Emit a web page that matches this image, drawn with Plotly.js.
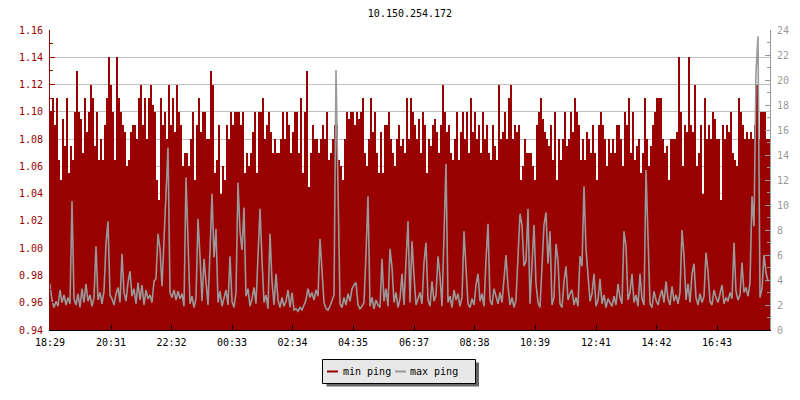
<!DOCTYPE html>
<html><head><meta charset="utf-8">
<script src="https://cdn.plot.ly/plotly-3.0.1.min.js"></script>
<style>html,body{margin:0;padding:0;background:#fff}#chart{width:800px;height:400px}</style>
</head><body><div id="chart"></div>
<script>
const chartTitle = '10.150.254.172';
const seriesNames = ['min ping', 'max ping'];
const startUTC = Date.UTC(2024, 0, 1, 18, 29);
const stepMinutes = 4;
const rangeStart = '2024-01-01 18:29';
const rangeEnd = '2024-01-02 18:29';

const minPing = [
1.10,1.11,1.09,1.11,1.065,1.05,1.095,1.075,1.11,1.055,
1.075,1.065,1.10,1.13,1.10,1.095,1.07,1.11,1.085,1.10,
1.12,1.11,1.075,1.10,1.065,1.08,1.065,1.09,1.11,1.14,
1.12,1.10,1.065,1.14,1.11,1.10,1.09,1.085,1.06,1.065,
1.085,1.09,1.09,1.08,1.11,1.12,1.09,1.11,1.08,1.11,
1.12,1.105,1.10,1.05,1.035,1.11,1.09,1.10,1.08,1.12,
1.09,1.11,1.085,1.12,1.10,1.09,1.06,1.07,1.07,1.06,
1.08,1.10,1.05,1.09,1.11,1.085,1.10,1.10,1.08,1.08,
1.13,1.12,1.055,1.065,1.09,1.04,1.06,1.05,1.09,1.08,
1.10,1.09,1.10,1.10,1.10,1.09,1.10,1.055,1.07,1.06,
1.07,1.085,1.10,1.055,1.10,1.10,1.11,1.08,1.09,1.10,
1.085,1.07,1.08,1.07,1.07,1.08,1.10,1.08,1.10,1.09,
1.07,1.085,1.10,1.10,1.07,1.11,1.055,1.10,1.13,1.045,
1.07,1.09,1.08,1.08,1.07,1.08,1.09,1.08,1.10,1.065,
1.07,1.08,1.09,1.09,1.065,1.06,1.05,1.08,1.10,1.095,
1.10,1.10,1.09,1.10,1.095,1.10,1.11,1.07,1.06,1.08,
1.11,1.085,1.10,1.07,1.055,1.085,1.055,1.09,1.09,1.10,
1.08,1.07,1.06,1.08,1.09,1.075,1.08,1.07,1.11,1.08,
1.11,1.10,1.09,1.08,1.095,1.07,1.10,1.09,1.055,1.08,
1.075,1.09,1.095,1.085,1.07,1.09,1.12,1.10,1.085,1.09,
1.07,1.065,1.08,1.10,1.065,1.085,1.10,1.08,1.10,1.07,
1.11,1.085,1.10,1.08,1.09,1.07,1.10,1.08,1.09,1.07,
1.065,1.09,1.075,1.065,1.12,1.08,1.085,1.10,1.08,1.11,
1.12,1.08,1.09,1.085,1.09,1.05,1.06,1.08,1.07,1.07,
1.07,1.06,1.05,1.09,1.10,1.11,1.095,1.085,1.08,1.075,
1.09,1.065,1.10,1.05,1.08,1.065,1.08,1.10,1.075,1.08,
1.10,1.085,1.11,1.10,1.09,1.065,1.08,1.065,1.085,1.08,
1.07,1.09,1.07,1.05,1.09,1.10,1.09,1.08,1.06,1.08,
1.07,1.08,1.07,1.09,1.09,1.08,1.06,1.10,1.09,1.11,
1.07,1.10,1.065,1.075,1.08,1.055,1.07,1.11,1.08,1.06,
1.075,1.09,1.10,1.11,1.11,1.11,1.08,1.07,1.075,1.05,
1.08,1.08,1.08,1.085,1.14,1.10,1.06,1.09,1.085,1.14,
1.09,1.085,1.12,1.06,1.07,1.09,1.04,1.11,1.08,1.09,
1.08,1.10,1.095,1.08,1.08,1.035,1.09,1.08,1.09,1.085,
1.10,1.07,1.065,1.06,1.11,1.10,1.09,1.08,1.085,1.08,
1.085,1.08,1.09,1.12,1.08,1.10,1.10,1.10,1.08,1.08
];

const maxPing = [
3.7,2.4,1.8,2.3,1.9,3.2,2.2,2.8,2.0,2.6,
2.1,10.3,2.5,2.0,2.9,1.8,3.3,2.2,3.7,2.3,
2.8,1.9,2.6,6.7,2.4,3.0,2.1,3.1,6.9,8.7,
2.8,2.5,2.0,2.9,3.4,2.2,6.1,3.0,2.3,3.8,
4.7,2.7,3.3,2.1,3.8,2.4,3.6,2.0,3.2,2.5,
2.8,2.2,3.9,4.1,7.7,6.5,3.5,7.4,10.6,14.6,
3.0,2.6,3.2,2.4,3.1,2.5,2.9,1.9,12.2,6.9,
2.1,2.7,1.8,2.5,8.9,5.9,2.3,5.7,3.9,2.0,
6.3,10.9,5.8,8.1,2.2,3.1,1.9,2.6,3.2,2.0,
5.9,2.3,1.8,3.0,11.8,7.9,6.4,9.8,2.7,3.3,
1.9,2.5,3.4,2.1,6.3,9.7,5.6,2.2,2.8,1.7,
7.7,3.9,2.0,4.5,2.4,1.8,2.6,1.9,2.3,3.2,
1.8,3.0,1.6,1.7,1.5,1.8,1.6,2.0,2.4,3.3,
2.6,3.0,2.4,3.2,2.7,7.3,4.5,2.2,1.7,1.6,
1.9,2.3,2.8,20.8,11.6,2.1,1.8,2.6,2.0,2.9,
2.3,3.3,3.6,3.8,2.0,1.7,1.9,2.2,6.1,10.7,
1.9,2.6,1.7,2.4,2.0,1.8,5.7,2.3,3.3,1.9,
6.5,5.0,2.2,3.0,1.8,2.5,4.5,2.0,5.5,8.7,
2.2,7.1,4.4,2.0,2.5,3.0,2.1,5.4,7.0,2.4,
1.9,3.9,2.3,2.8,5.9,4.3,1.9,7.6,13.3,2.2,
2.7,1.8,3.2,2.4,2.9,1.9,2.6,7.9,4.8,2.1,
1.8,2.5,2.0,3.6,4.5,2.3,2.9,1.9,5.6,8.5,
2.4,2.0,3.3,2.7,2.1,3.0,2.2,4.1,6.0,3.5,
2.0,2.6,1.8,2.4,5.9,9.3,8.4,5.1,5.5,9.7,
2.1,5.6,8.4,3.7,2.2,1.8,5.5,8.4,9.4,5.3,
7.9,2.0,2.6,6.9,5.5,2.1,1.8,3.9,5.1,2.4,
2.9,3.2,2.0,2.6,1.9,5.9,5.1,11.5,6.5,4.1,
2.3,2.9,4.5,1.9,2.4,4.1,2.1,2.8,1.8,2.5,
2.2,1.9,2.7,2.0,3.7,2.6,2.1,7.9,6.7,2.4,
3.0,4.5,2.2,2.8,1.9,4.5,2.5,2.0,12.8,7.2,
2.1,1.8,3.1,2.4,2.0,2.7,3.2,2.2,3.9,2.5,
2.0,3.5,2.3,2.8,2.1,3.0,8.0,5.9,2.4,3.7,
2.2,4.5,5.3,2.6,2.0,2.9,2.2,2.7,6.2,4.7,
2.3,2.0,3.2,2.6,2.2,2.9,3.6,2.1,2.6,2.3,
3.0,2.5,7.0,3.1,2.4,2.8,5.4,3.0,3.4,2.7,
3.8,10.7,8.3,20.6,23.5,2.6,3.3,6.0,4.6,3.9
];

const tickTimes = ['2024-01-01 18:29','2024-01-01 20:31','2024-01-01 22:32','2024-01-02 00:33',
  '2024-01-02 02:34','2024-01-02 04:35','2024-01-02 06:37','2024-01-02 08:38',
  '2024-01-02 10:39','2024-01-02 12:41','2024-01-02 14:42','2024-01-02 16:43'];
const tickLabels = ['18:29','20:31','22:32','00:33','02:34','04:35','06:37','08:38','10:39','12:41','14:42','16:43'];

const RED = '#990000', GRAY = '#999999';
const FONT = 'DejaVu Sans Mono, Liberation Mono, monospace';

// plot area in pixels (margins), used to place the hand-built legend box
const PL = 50, PR = 770, PT = 30, PB = 330;
const px = v => (v - PL) / (PR - PL);
const py = v => (PB - v) / (PB - PT);

function timeAt(i) {
  return new Date(startUTC + i * stepMinutes * 60000).toISOString().slice(0, 19).replace('T', ' ');
}
const times = minPing.map((_, i) => timeAt(i));

const traces = [
  { type: 'bar', x: times, y: minPing, offset: 0, width: stepMinutes * 60000,
    marker: { color: RED, line: { width: 0 } }, name: seriesNames[0], showlegend: false },
  { type: 'scatter', mode: 'lines', x: times, y: maxPing, yaxis: 'y2',
    line: { color: GRAY, width: 1.6, shape: 'linear' }, name: seriesNames[1], showlegend: false }
];

const legendItems = [
  { name: seriesNames[0], color: RED, x0: 327, x1: 338, tx: 341.5 },
  { name: seriesNames[1], color: GRAY, x0: 395, x1: 406, tx: 408.5 }
];
const legendY = 371.5;

const shapes = [
  { type: 'rect', xref: 'paper', yref: 'paper', layer: 'above',
    x0: px(326.5), x1: px(479), y0: py(386.5), y1: py(362.5), fillcolor: '#666666', line: { width: 0 } },
  { type: 'rect', xref: 'paper', yref: 'paper', layer: 'above',
    x0: px(322.5), x1: px(475.5), y0: py(383.5), y1: py(359.5), fillcolor: '#e8e8e8', line: { color: '#000', width: 1 } }
];
const annotations = [];
legendItems.forEach(it => {
  shapes.push({ type: 'line', xref: 'paper', yref: 'paper', layer: 'above',
    x0: px(it.x0), x1: px(it.x1), y0: py(legendY), y1: py(legendY), line: { color: it.color, width: 2 } });
  annotations.push({ xref: 'paper', yref: 'paper', x: px(it.tx), y: py(legendY), xanchor: 'left', yanchor: 'middle',
    text: it.name, showarrow: false, borderpad: 0, font: { family: FONT, size: 10, color: '#000' } });
});

const layout = {
  width: 800, height: 400,
  margin: { l: PL, r: 800 - PR, t: PT, b: 400 - PB, pad: 0 },
  paper_bgcolor: '#ffffff', plot_bgcolor: '#ffffff',
  font: { family: FONT, size: 10, color: '#000' },
  showlegend: false,
  bargap: 0,
  title: { text: chartTitle, x: 0.5, xref: 'paper', xanchor: 'center', y: 0.967, yref: 'container', yanchor: 'middle',
    font: { family: FONT, size: 10, color: '#000' } },
  xaxis: { type: 'date', range: [rangeStart, rangeEnd], tickmode: 'array', tickvals: tickTimes, ticktext: tickLabels,
    ticks: 'inside', ticklen: 5, tickcolor: '#000', tickwidth: 1, showline: true, linecolor: '#000', linewidth: 1,
    showgrid: false, zeroline: false, tickfont: { family: FONT, size: 10, color: '#000' }, ticklabelstandoff: 3 },
  yaxis: { range: [0.94, 1.16], dtick: 0.02, tick0: 0.94, tickformat: '.2f', ticks: 'inside', ticklen: 5,
    tickcolor: RED, showline: true, linecolor: RED, linewidth: 1, showgrid: true, gridcolor: '#c0c0c0', gridwidth: 1,
    zeroline: false, tickfont: { family: FONT, size: 10, color: RED }, ticklabelstandoff: 4,
    minor: { dtick: 0.01, tick0: 0.94, ticks: 'inside', ticklen: 3, tickcolor: RED, showgrid: false } },
  yaxis2: { overlaying: 'y', side: 'right', range: [0, 24], dtick: 2, tick0: 0, ticks: 'inside', ticklen: 5,
    tickcolor: GRAY, showline: true, linecolor: GRAY, linewidth: 1, showgrid: false, zeroline: false,
    tickfont: { family: FONT, size: 10, color: GRAY }, ticklabelstandoff: 4,
    minor: { dtick: 1, tick0: 0, ticks: 'inside', ticklen: 3, tickcolor: GRAY, showgrid: false } },
  shapes: shapes,
  annotations: annotations
};

Plotly.newPlot('chart', traces, layout, { staticPlot: true, displayModeBar: false });
</script>
</body></html>
